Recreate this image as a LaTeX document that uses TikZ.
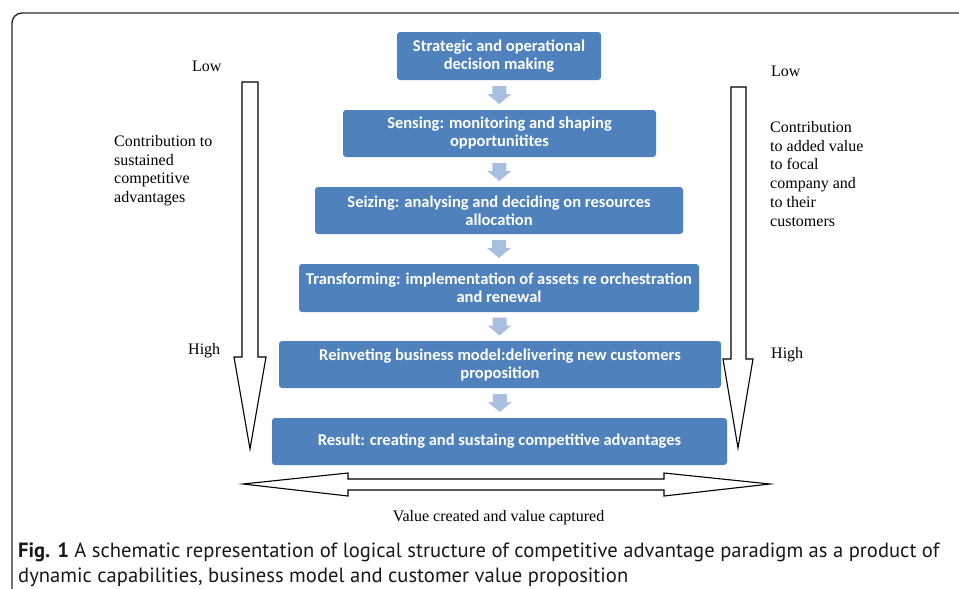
\documentclass[tikz,border=0pt]{standalone}
\usepackage{fontspec}
\setmainfont{Liberation Serif}
\newfontfamily\boxfont{Carlito}
\newfontfamily\capfont{PT Sans}
\usetikzlibrary{calc}
\definecolor{boxblue}{HTML}{4F81BD}
\definecolor{arrowblue}{HTML}{A9BFDF}
\definecolor{frameline}{HTML}{2B2B2B}
\tikzset{
  stagebox/.style={fill=boxblue, draw=none, rounded corners=3pt, text=white,
    font=\boxfont\bfseries\fontsize{16.5}{18}\selectfont, align=center, inner sep=0pt},
  serif/.style={font=\fontsize{16}{18.8}\selectfont, inner sep=0pt, text=black},
  bigarrow/.style={draw=black, fill=white, line width=1.1pt, line join=miter},
  downarr/.pic={\fill[arrowblue] (-7,-9) -- (7,-9) -- (7,-1) -- (12,-1) -- (0,9) -- (-12,-1) -- (-7,-1) -- cycle;},
  captext/.style={font=\capfont\fontsize{20.6}{25}\selectfont, inner sep=0pt, text=black!90}
}
\begin{document}
\begin{tikzpicture}[x=1pt,y=-1pt]
\useasboundingbox (0,0) rectangle (959,589);
\fill[white] (0,0) rectangle (959,589);
% frame
\draw[frameline, line width=1.4pt, rounded corners=10pt] (12,589) -- (12,13) -- (959,13);

% stage boxes
\node[stagebox, minimum width=204pt, minimum height=48pt] (b1) at (499,56) {Strategic and operational\\decision making};
\node[stagebox, minimum width=313pt, minimum height=47pt] (b2) at (499.5,133.5) {Sensing: monitoring and shaping\\opportunitites};
\node[stagebox, minimum width=368pt, minimum height=47pt] (b3) at (499,210.5) {Seizing: analysing and deciding on resources\\allocation};
\node[stagebox, minimum width=400pt, minimum height=48pt] (b4) at (499,288) {Transforming: implementation of assets re orchestration\\and renewal};
\node[stagebox, minimum width=442pt, minimum height=47pt] (b5) at (500,364.5) {Reinveting business model:delivering new customers\\proposition};
\node[stagebox, minimum width=455pt, minimum height=47pt] (b6) at (499.5,441.5) {Result: creating and sustaing competitive advantages};

% small arrows between boxes
\path ($(b1.south)!0.5!(b2.north)$) pic {downarr};
\path ($(b2.south)!0.5!(b3.north)$) pic {downarr};
\path ($(b3.south)!0.5!(b4.north)$) pic {downarr};
\path ($(b4.south)!0.5!(b5.north)$) pic {downarr};
\path ($(b5.south)!0.5!(b6.north)$) pic {downarr};

% big vertical arrows
\draw[bigarrow] (242,82) -- (258,82) -- (258,357) -- (266,357) -- (250,449) -- (234,357) -- (242,357) -- cycle;
\draw[bigarrow] (731,87) -- (746,87) -- (746,359) -- (753,359) -- (738,448) -- (723,359) -- (731,359) -- cycle;
% horizontal double arrow
\draw[bigarrow] (243,484) -- (348,473) -- (348,479) -- (664,479) -- (664,473) -- (770,484) -- (664,496) -- (664,490) -- (348,490) -- (348,496) -- cycle;

% labels left
\node[serif, anchor=base west] (lowL) at (192,71) {Low};
\node[serif, anchor=base west] (highL) at (188,354) {High};
\node[serif, anchor=north west, align=left] (contL) at (114,135) {Contribution to\\sustained\\competitive\\advantages};
% labels right
\node[serif, anchor=base west] (lowR) at (771,76) {Low};
\node[serif, anchor=base west] (highR) at (771,358) {High};
\node[serif, anchor=north west, align=left] (contR) at (770,121) {Contribution\\to added value\\to focal\\company and\\to their\\customers};
% bottom label
\node[serif, anchor=base] (valcap) at (498.5,521) {Value created and value captured};

% caption
\node[captext, anchor=base west] (cap1) at (18,557) {\textbf{Fig. 1} A schematic representation of logical structure of competitive advantage paradigm as a product of};
\node[captext, anchor=base west] (cap2) at (18,582) {dynamic capabilities, business model and customer value proposition};
\end{tikzpicture}
\end{document}
